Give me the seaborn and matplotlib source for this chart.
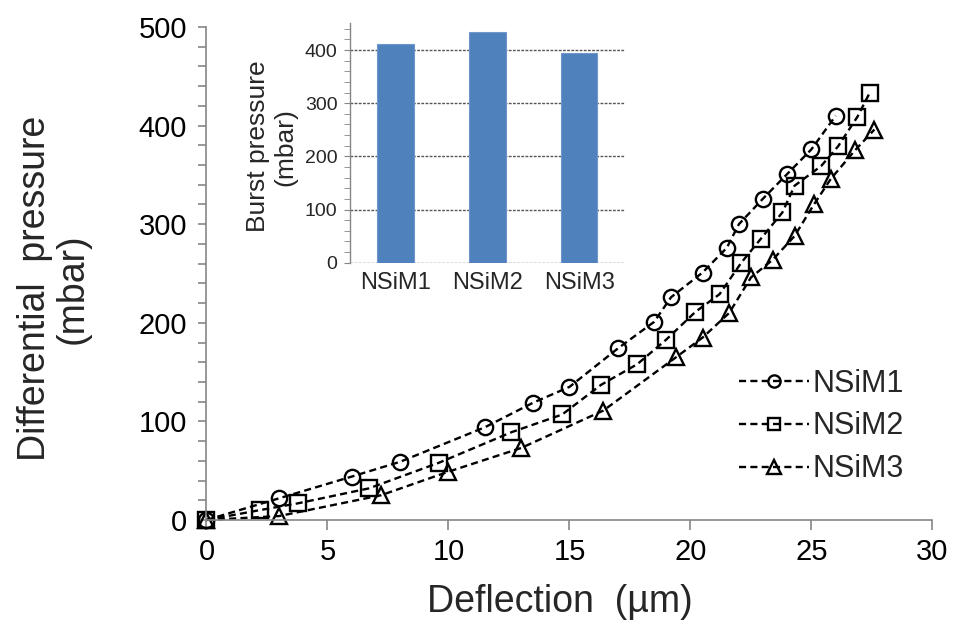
import matplotlib
matplotlib.use("Agg")
import matplotlib.pyplot as plt
from matplotlib.ticker import MultipleLocator
import pandas as pd
import seaborn as sns

# dados (deflexao em um, pressao em mbar)
x_m1 = [0, 3.0, 6.0, 8.0, 11.5, 13.5, 15.0, 17.0, 18.5, 19.2, 20.5, 21.5, 22.0, 23.0, 24.0, 25.0, 26.0]
y_m1 = [0, 22, 44, 59, 94, 119, 135, 174, 201, 226, 251, 276, 300, 326, 351, 376, 410]

x_m2 = [0, 2.2, 3.8, 6.7, 9.6, 12.6, 14.7, 16.3, 17.8, 19.0, 20.2, 21.2, 22.1, 22.9, 23.8, 24.3, 25.4, 26.1, 26.9, 27.4]
y_m2 = [0, 10, 17, 32, 58, 89, 107, 137, 158, 183, 211, 229, 261, 285, 312, 339, 359, 379, 409, 433]

x_m3 = [0, 3.0, 7.2, 10.0, 13.0, 16.4, 19.4, 20.5, 21.6, 22.5, 23.4, 24.3, 25.1, 25.8, 26.8, 27.6]
y_m3 = [0, 4, 25, 49, 73, 111, 165, 185, 210, 246, 264, 288, 320, 346, 375, 396]

nomes = ["NSiM1", "NSiM2", "NSiM3"]
burst = [411, 433, 395]

sns.set_style("ticks")
plt.rcParams["font.family"] = ["Liberation Sans", "DejaVu Sans"]

cinza = "#868686"

fig = plt.figure(figsize=(9.56, 6.28), dpi=100)
ax = fig.add_axes([0.216, 0.172, 0.7594, 0.785])

series = [(x_m1, y_m1, "o", 11), (x_m2, y_m2, "s", 11), (x_m3, y_m3, "^", 12)]
for (xs, ys, mk, ms), nome in zip(series, nomes):
    sns.lineplot(x=xs, y=ys, ax=ax, sort=False, color="black", linestyle="--",
                 dashes=False, linewidth=1.7, marker=mk, markersize=ms,
                 markerfacecolor="none", markeredgecolor="black",
                 markeredgewidth=1.7, label=nome, clip_on=False)
for ln in ax.lines:
    ln.set_dashes((3, 1.8))

ax.set_xlim(0, 30)
ax.set_ylim(0, 500)
ax.xaxis.set_major_locator(MultipleLocator(5))
ax.yaxis.set_major_locator(MultipleLocator(100))
ax.yaxis.set_minor_locator(MultipleLocator(20))
ax.tick_params(axis="both", which="both", direction="out", color=cinza,
               width=1.2, labelsize=21, labelcolor="black")
ax.tick_params(axis="x", length=7, pad=6)
ax.tick_params(axis="y", which="both", length=6, pad=8)
for s in ["top", "right"]:
    ax.spines[s].set_visible(False)
for s in ["left", "bottom"]:
    ax.spines[s].set_color(cinza)
    ax.spines[s].set_linewidth(1.2)

ax.set_xlabel("Deflection  (\u00b5m)", fontsize=27)
ax.set_ylabel("Differential  pressure\n(mbar)", fontsize=27, linespacing=1.05)
ax.xaxis.set_label_coords(0.487, -0.13)
ax.yaxis.set_label_coords(-0.16, 0.47)

leg = ax.legend(frameon=False, loc="upper left", bbox_to_anchor=(0.712, 0.338),
                fontsize=22, handlelength=2.3, handletextpad=0.1,
                labelspacing=0.42, borderpad=0, markerscale=0.8)
for h in leg.legend_handles:
    h.set_dashes((3, 1.8))

# grafico de barras dentro
ins = fig.add_axes([0.366, 0.5817, 0.2877, 0.381])
df = pd.DataFrame({"amostra": nomes, "burst": burst})
sns.barplot(data=df, x="amostra", y="burst", ax=ins, color="#4F81BD",
            saturation=1, width=0.4, edgecolor="#6f97cc", linewidth=0.8, zorder=3)
ins.set_ylim(0, 450)
ins.yaxis.set_major_locator(MultipleLocator(100))
ins.yaxis.set_minor_locator(MultipleLocator(20))
ins.grid(axis="y", which="major", color="#555555", linestyle=(0, (2, 1)),
         linewidth=1.0, zorder=0)
ins.set_axisbelow(True)
for s in ["top", "right", "bottom"]:
    ins.spines[s].set_visible(False)
ins.spines["left"].set_color(cinza)
ins.spines["left"].set_linewidth(1.0)
ins.tick_params(axis="y", which="both", direction="out", length=4,
                color=cinza, labelsize=14, pad=5)
ins.tick_params(axis="x", length=0, labelsize=17, pad=7)
ins.set_xlabel("")
ins.set_ylabel("Burst pressure\n(mbar)", fontsize=19, linespacing=1.2)
ins.yaxis.set_label_coords(-0.19, 0.485)
ins.patch.set_alpha(0)

fig.savefig("out.png", dpi=100)
